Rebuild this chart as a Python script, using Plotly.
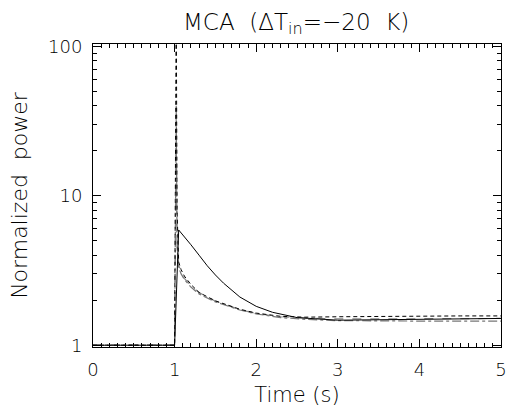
import plotly.graph_objects as go

# Time samples (s) and normalized power for each run
t_solid = [0, 1.0, 1.05, 1.1, 1.2, 1.3, 1.4, 1.5, 1.6, 1.8, 2.0, 2.2, 2.5, 3.0, 3.5, 4.0, 4.5, 5.0]
p_solid = [1, 1, 5.9, 5.5, 4.7, 4.0, 3.4, 2.95, 2.6, 2.1, 1.82, 1.66, 1.53, 1.47, 1.48, 1.49, 1.5, 1.51]

t_dash = [0, 1.0, 1.02, 1.03, 1.05, 1.08, 1.12, 1.2, 1.3, 1.5, 1.8, 2.0, 2.3, 2.6, 3.0, 3.5, 4.0, 4.5, 5.0]
p_dash = [1, 1, 200, 8, 3.6, 3.2, 2.9, 2.55, 2.25, 1.98, 1.74, 1.64, 1.56, 1.54, 1.55, 1.56, 1.57, 1.57, 1.57]

t_gdd = [0, 1.0, 1.02, 1.03, 1.05, 1.08, 1.12, 1.2, 1.3, 1.5, 1.8, 2.0, 2.3, 2.6, 3.0, 3.5, 4.0, 4.5, 5.0]
p_gdd = [1, 1, 40, 5, 3.3, 3.0, 2.75, 2.45, 2.2, 1.95, 1.72, 1.62, 1.53, 1.49, 1.46, 1.45, 1.45, 1.45, 1.45]

t_gdash = [0, 1.0, 1.02, 1.03, 1.05, 1.08, 1.12, 1.2, 1.3, 1.5, 1.8, 2.0, 2.3, 2.6, 3.0, 3.5, 4.0, 4.5, 5.0]
p_gdash = [1, 1, 25, 4.5, 3.4, 3.1, 2.8, 2.5, 2.25, 1.97, 1.73, 1.63, 1.55, 1.52, 1.5, 1.5, 1.5, 1.51, 1.51]

x_ticks = [0, 1, 2, 3, 4, 5]
y_ticks = [1, 10, 100]

FONT = "DejaVu Sans"
NB = "\u00a0"

fig = go.Figure()
fig.add_trace(go.Scatter(x=t_gdash, y=p_gdash, mode="lines",
                         line=dict(color="#888888", width=1.2, dash="dash")))
fig.add_trace(go.Scatter(x=t_gdd, y=p_gdd, mode="lines",
                         line=dict(color="#777777", width=1.2, dash="dashdot")))
fig.add_trace(go.Scatter(x=t_dash, y=p_dash, mode="lines",
                         line=dict(color="black", width=1, dash="4px,3px")))
fig.add_trace(go.Scatter(x=t_solid, y=p_solid, mode="lines",
                         line=dict(color="black", width=1)))

fig.update_layout(
    width=515, height=420,
    margin=dict(l=93, r=8, t=44, b=73),
    paper_bgcolor="white", plot_bgcolor="white",
    showlegend=False,
    font=dict(family=FONT, size=18, color="black", weight=200),
    title=dict(text=f"MCA{NB}{NB}(ΔT<sub>in</sub>=−20{NB}{NB}K)", x=0.575, xanchor="center",
               y=0.968, yanchor="top", font=dict(family=FONT, size=23, color="black", weight=200)),
    xaxis=dict(range=[0, 5], tickvals=x_ticks, ticks="inside", ticklen=8, tickcolor="black",
               showline=True, linecolor="black", linewidth=1, mirror="allticks",
               showgrid=False, zeroline=False, ticklabelstandoff=6,
               minor=dict(dtick=0.1, ticks="inside", ticklen=4, tickcolor="black"),
               title=dict(text="Time (s)", standoff=8, font=dict(size=21)),
               tickfont=dict(size=18)),
    yaxis=dict(type="log", range=[-0.012, 2.015], tickvals=y_ticks, ticks="inside", ticklen=8,
               tickcolor="black", ticklabelstandoff=6,
               showline=True, linecolor="black", linewidth=1, mirror="allticks",
               showgrid=False, zeroline=False,
               minor=dict(dtick="D1", ticks="inside", ticklen=4, tickcolor="black"),
               title=dict(text=f"Normalized{NB}{NB}power", standoff=14, font=dict(size=22)),
               tickfont=dict(size=18)),
)

fig.write_html("out.html")
